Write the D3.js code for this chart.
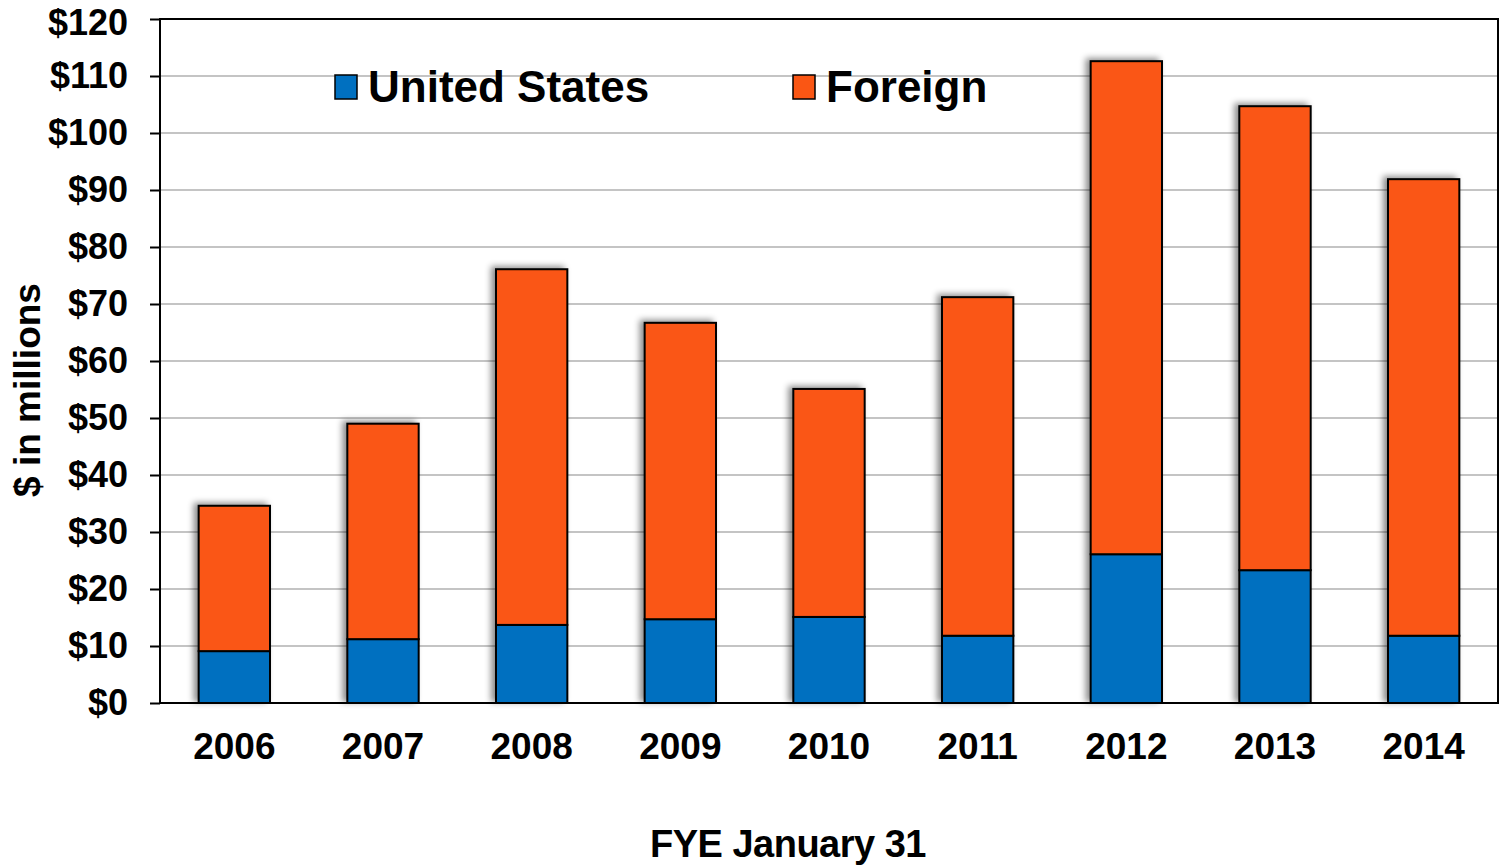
<!DOCTYPE html>
<html>
<head>
<meta charset="utf-8">
<script src="https://cdn.jsdelivr.net/npm/d3@7"></script>
<style>
  body { margin: 0; background: #fff; }
  svg { display: block; font-family: "Liberation Sans", Arial, sans-serif; font-weight: bold; }
  .grid line { stroke: #c4c4c4; stroke-width: 2px; }
  .axis path, .axis line { stroke: #000; stroke-width: 2px; }
</style>
</head>
<body>
<svg id="chart"></svg>
<script>
// chart data
var years = ["2006", "2007", "2008", "2009", "2010", "2011", "2012", "2013", "2014"];
var unitedStates = [9.1, 11.2, 13.7, 14.7, 15.1, 11.8, 26.1, 23.3, 11.8];
var foreign = [25.5, 37.8, 62.4, 52.0, 40.0, 59.4, 86.5, 81.4, 80.1];
var yTicks = [0, 10, 20, 30, 40, 50, 60, 70, 80, 90, 100, 110, 120];
var seriesNames = ["United States", "Foreign"];
var colors = ["#0070c0", "#fa5614"];

var W = 1501, H = 865;
var margin = { top: 19, right: 3, bottom: 162, left: 160 };
var width = W - margin.left - margin.right,
    height = H - margin.top - margin.bottom;

var svg = d3.select("#chart").attr("width", W).attr("height", H);

var defs = svg.append("defs");
var f = defs.append("filter").attr("id", "shadow")
  .attr("x", "-20%").attr("y", "-20%").attr("width", "140%").attr("height", "140%");
f.append("feDropShadow")
  .attr("dx", -4).attr("dy", -2).attr("stdDeviation", 3)
  .attr("flood-color", "#000").attr("flood-opacity", 0.45);

var g = svg.append("g").attr("transform", "translate(" + margin.left + "," + margin.top + ")");

var x = d3.scaleBand().domain(years).range([0, width]).paddingInner(0.52).paddingOuter(0.26);
var y = d3.scaleLinear().domain([0, 120]).range([height, 0]);

// gridlines
g.append("g").attr("class", "grid")
  .selectAll("line").data(yTicks.slice(1, -1)).enter()
  .append("line")
  .attr("x1", 0).attr("x2", width)
  .attr("y1", function (d) { return y(d); })
  .attr("y2", function (d) { return y(d); });

// stacked bars
var rows = years.map(function (yr, i) {
  return { year: yr, us: unitedStates[i], foreign: foreign[i] };
});
var stack = d3.stack().keys(["us", "foreign"])(rows);

var bars = g.append("g").attr("filter", "url(#shadow)");
bars.selectAll("g.layer").data(stack).enter()
  .append("g").attr("class", "layer")
  .attr("fill", function (d, i) { return colors[i]; })
  .selectAll("rect").data(function (d) { return d; }).enter()
  .append("rect")
  .attr("x", function (d) { return x(d.data.year); })
  .attr("width", x.bandwidth())
  .attr("y", function (d) { return y(d[1]); })
  .attr("height", function (d) { return y(d[0]) - y(d[1]); })
  .attr("stroke", "#000")
  .attr("stroke-width", 2);

// frame
g.append("rect").attr("x", 0).attr("y", 0).attr("width", width).attr("height", height)
  .attr("fill", "none").attr("stroke", "#000").attr("stroke-width", 2);

// y axis
var yAxis = g.append("g").attr("class", "axis")
  .call(d3.axisLeft(y).tickValues(yTicks).tickSize(10).tickPadding(22)
    .tickFormat(function (d) { return "$" + d; }));
yAxis.select(".domain").remove();
yAxis.selectAll("text")
  .attr("font-size", 36).attr("font-weight", "bold").attr("fill", "#000")
  .attr("font-family", "Liberation Sans, Arial, sans-serif");
// keep the top label inside the page
yAxis.selectAll("text").filter(function (d) { return d === 120; })
  .attr("dy", "0.42em");

// x axis
var xAxis = g.append("g").attr("class", "axis")
  .attr("transform", "translate(0," + height + ")")
  .call(d3.axisBottom(x).tickSize(0).tickPadding(30));
xAxis.select(".domain").remove();
xAxis.selectAll("text")
  .attr("font-size", 37).attr("font-weight", "bold").attr("fill", "#000")
  .attr("font-family", "Liberation Sans, Arial, sans-serif");

// axis titles
svg.append("text")
  .attr("transform", "translate(40," + 390 + ") rotate(-90)")
  .attr("text-anchor", "middle")
  .attr("font-size", 37)
  .text("$ in millions");

svg.append("text")
  .attr("x", 788).attr("y", 857)
  .attr("text-anchor", "middle")
  .attr("font-size", 38)
  .attr("letter-spacing", "-0.5px")
  .text("FYE January 31");

// legend
var legendX = [335, 793];
var legend = svg.append("g");
seriesNames.forEach(function (name, i) {
  legend.append("rect")
    .attr("x", legendX[i]).attr("y", 75)
    .attr("width", 22).attr("height", 24)
    .attr("fill", colors[i]).attr("stroke", "#000").attr("stroke-width", 1.5);
  legend.append("text")
    .attr("x", legendX[i] + 33).attr("y", 102)
    .attr("font-size", 44)
    .text(name);
});
</script>
</body>
</html>
